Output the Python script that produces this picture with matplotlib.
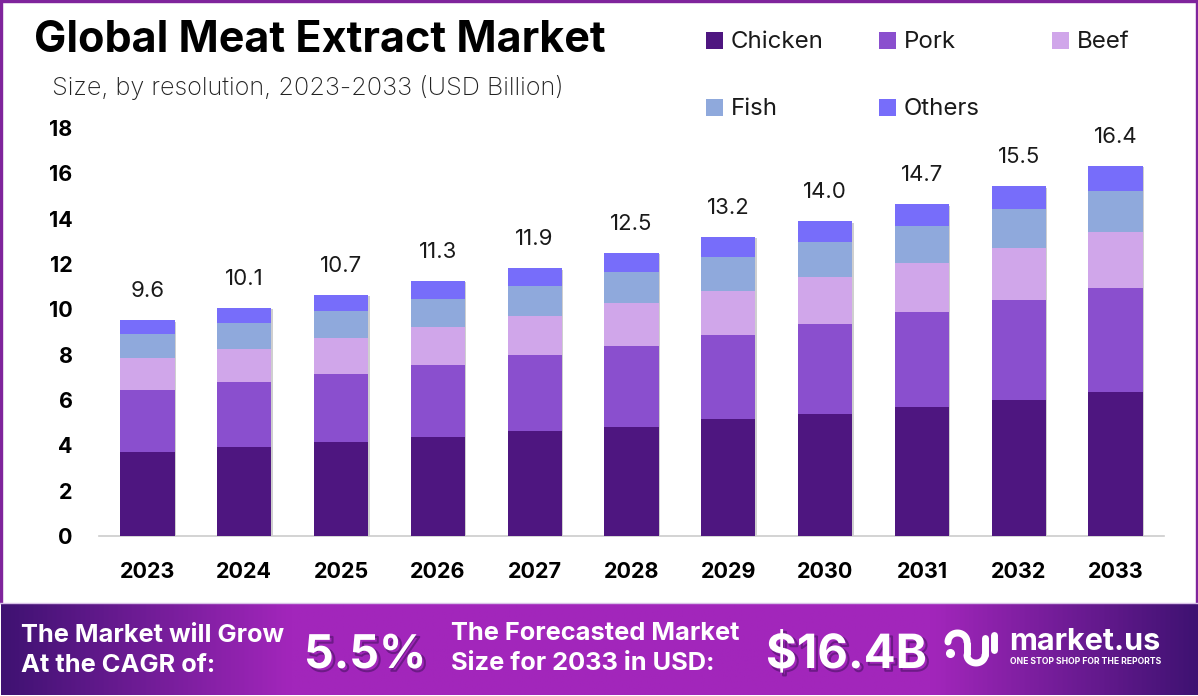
import matplotlib
matplotlib.use("Agg")
import matplotlib.pyplot as plt
import matplotlib.patheffects as pe
from matplotlib.patches import Rectangle
from matplotlib.colors import LinearSegmentedColormap
import numpy as np

years = [2023, 2024, 2025, 2026, 2027, 2028, 2029, 2030, 2031, 2032, 2033]
totals = [9.6, 10.1, 10.7, 11.3, 11.9, 12.5, 13.2, 14.0, 14.7, 15.5, 16.4]
chicken = [3.70, 3.93, 4.15, 4.37, 4.63, 4.81, 5.16, 5.38, 5.69, 6.00, 6.35]
pork = [2.73, 2.87, 3.00, 3.18, 3.35, 3.57, 3.71, 3.97, 4.19, 4.41, 4.59]
beef = [1.41, 1.46, 1.59, 1.68, 1.72, 1.90, 1.94, 2.07, 2.16, 2.29, 2.47]
fish = [1.06, 1.15, 1.19, 1.24, 1.32, 1.37, 1.50, 1.54, 1.63, 1.72, 1.81]
others = [0.62, 0.66, 0.71, 0.79, 0.79, 0.84, 0.88, 0.93, 0.97, 1.01, 1.10]
series = ["Chicken", "Pork", "Beef", "Fish", "Others"]
colors = ["#4e1680", "#8a4fce", "#d0a6ea", "#8fa9dc", "#776dfa"]

W, H = 1198, 696
plt.rcParams["font.family"] = ["Inter", "DejaVu Sans"]
fig = plt.figure(figsize=(W / 100, H / 100), dpi=100, facecolor="white")

# main chart
ax = fig.add_axes([99 / W, 1 - 536 / H, (1164 - 99) / W, (536 - 128) / H])
x = np.arange(len(years))
stack = np.array([chicken, pork, beef, fish, others])
heights = stack.sum(axis=0)

# soft shadow goes on a backing bar so it doesnt bleed over the segments
backing = ax.bar(x, heights, 0.56, color="white", zorder=2)
for b in backing:
    b.set_path_effects([pe.SimplePatchShadow(offset=(1, -1), shadow_rgbFace="#888888", alpha=0.4)])

bottom = np.zeros(len(years))
for name, vals, col in zip(series, stack, colors):
    ax.bar(x, vals, 0.56, bottom=bottom, color=col, label=name, zorder=3)
    bottom += vals

for i, t in enumerate(totals):
    ax.annotate(f"{t:.1f}", (i, bottom[i]), xytext=(0, 21), textcoords="offset points",
                ha="center", va="center", fontsize=16, color="#1a1a1a")

ax.set_xlim(-0.5, 10.5)
ax.set_ylim(0, 18)
ax.set_yticks(range(0, 19, 2))
ax.set_xticks(x, [str(y) for y in years])
ax.tick_params(axis="both", length=0, labelsize=15.5, labelcolor="black")
ax.tick_params(axis="x", pad=19)
ax.tick_params(axis="y", pad=19)
for lab in ax.get_xticklabels() + ax.get_yticklabels():
    lab.set_fontweight("bold")
for s in ["top", "right", "left"]:
    ax.spines[s].set_visible(False)
ax.spines["bottom"].set_color("#cccccc")
ax.spines["bottom"].set_linewidth(1.2)

# overlay in pixel coordinates for title, legend, banner
ov = fig.add_axes([0, 0, 1, 1], zorder=5)
ov.set_xlim(0, W)
ov.set_ylim(H, 0)
ov.axis("off")

ov.text(34, 41, "Global Meat Extract Market", fontsize=31, fontweight="bold", color="black",
        va="center", ha="left")
ov.text(52, 87, "Size, by resolution, 2023-2033 (USD Billion)", fontsize=18.2, color="#222222",
        va="center", ha="left", fontweight="light")

leg_pos = [(706, 40), (879, 40), (1052, 40), (706, 107), (879, 107)]
for name, col, (lx, ly) in zip(series, colors, leg_pos):
    ov.add_patch(Rectangle((lx, ly - 8), 17, 17, facecolor=col, edgecolor="none"))
    ov.text(lx + 25, ly + 2, name, fontsize=17.3, color="#1a1a1a", va="center", ha="left")

# banner gradient
grad = LinearSegmentedColormap.from_list(
    "banner", [(0, "#3f1272"), (0.24, "#a226bb"), (0.78, "#a226bb"), (1, "#3f1272")])
ov.imshow(np.linspace(0, 1, 512).reshape(1, -1), cmap=grad, extent=(1, W, 695, 603), aspect="auto", zorder=1)
ov.set_xlim(0, W)
ov.set_ylim(H, 0)

ov.plot([0, W], [603, 603], color="#d9c2e8", lw=1, zorder=2)
for r in [Rectangle((0, 0), W, 2, color="#7f249c"),
          Rectangle((0, 0), 2, 603, color="#7f249c"),
          Rectangle((W - 2, 0), 2, 603, color="#7f249c")]:
    ov.add_patch(r)

ov.text(21, 636, "The Market will Grow", fontsize=18.3, fontweight="bold", color="white", va="center", zorder=3)
ov.text(21, 665, "At the CAGR of:", fontsize=18.3, fontweight="bold", color="white", va="center", zorder=3)
ov.text(451, 634, "The Forecasted Market", fontsize=18.3, fontweight="bold", color="white", va="center", zorder=3)
ov.text(451, 663, "Size for 2033 in USD:", fontsize=18.3, fontweight="bold", color="white", va="center", zorder=3)
big1 = ov.text(304, 656, "5.5%", fontsize=33.5, fontweight="bold", color="white", va="center", zorder=3)
big2 = ov.text(766, 656, "$16.4B", fontsize=34, fontweight="bold", color="white", va="center", zorder=3)
shadow_txt = [pe.SimpleLineShadow(offset=(2, -2), shadow_color="#3a0f55", alpha=0.5, linewidth=1.5), pe.Normal()]
big1.set_path_effects(shadow_txt)
big2.set_path_effects(shadow_txt)

# logo mark
logo_w = 5
t = np.linspace(np.pi, 2 * np.pi, 30)
ov.plot([950], [653], "o", color="white", ms=5.5, zorder=3)
ov.plot(957.5 + 9.5 * np.cos(t), 642 + 9 * np.sin(t), color="white", lw=logo_w, solid_capstyle="round", zorder=3)
ov.plot([967, 967], [642, 655], color="white", lw=logo_w, solid_capstyle="butt", zorder=3)
ov.plot(976 + 9 * np.cos(t), 655 - 8 * np.sin(t), color="white", lw=logo_w, solid_capstyle="round", zorder=3)
ov.plot([985, 985], [655, 638], color="white", lw=logo_w, solid_capstyle="round", zorder=3)
ov.plot([994, 994], [635, 650], color="white", lw=logo_w, solid_capstyle="round", zorder=3)
ov.text(1009, 642, "market.us", fontsize=22, fontweight="bold", color="white", va="center", zorder=3)
ov.text(1010, 661, "ONE STOP SHOP FOR THE REPORTS", fontsize=6.2, fontweight="bold", color="white", va="center", zorder=3)

fig.savefig("out.png", dpi=100)
